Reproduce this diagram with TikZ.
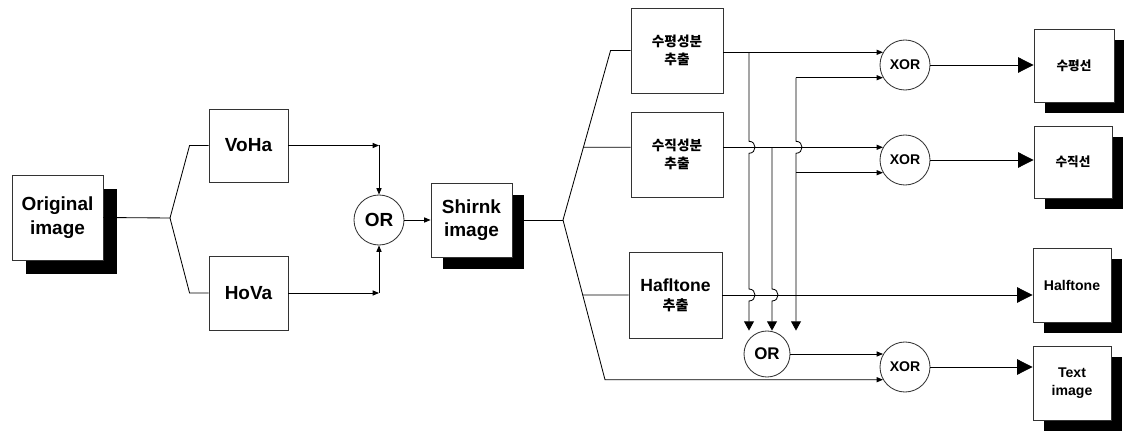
\documentclass[tikz,border=0pt]{standalone}
\usepackage{fontspec}
\setmainfont{Liberation Sans}
\newfontfamily\kor{Noto Sans CJK KR}
\usetikzlibrary{arrows.meta, calc, shadows}

\begin{document}
\begin{tikzpicture}[x=0.025cm, y=-0.025cm, line width=0.6pt,
    box/.style={draw=black!80, fill=white, align=center, inner sep=0pt, font=\bfseries\fontsize{13.5}{17}\selectfont},
    boxshadow/.style={drop shadow={shadow xshift=#1, shadow yshift=-#1, fill=black, opacity=1}},
    gate/.style={draw=black!80, fill=white, circle, inner sep=0pt, minimum size=1.25cm, font=\bfseries\fontsize{13.5}{15}\selectfont},
    xorgate/.style={gate, font=\bfseries\fontsize{10}{12}\selectfont},
    kr/.style={font=\kor\bfseries\fontsize{9.7}{12.8}\selectfont},
    small/.style={font=\bfseries\fontsize{10}{12.8}\selectfont},
    arr/.style={-{Triangle[length=4.5pt, width=3.6pt]}},
    midarr/.style={-{Triangle[length=6.5pt, width=7pt]}},
    bigarr/.style={-{Triangle[length=11pt, width=11pt]}}]
    \useasboundingbox (0,0) rectangle (1124,432);

    % left part
    \node[box, boxshadow=0.34cm, minimum width=2.275cm, minimum height=2.125cm] (orig) at (57.5,217.5) {Original\\image};
    \node[box, minimum width=1.975cm, minimum height=1.825cm] (voha) at (248.5,145.5) {VoHa};
    \node[box, minimum width=1.975cm, minimum height=1.85cm] (hova) at (248.5,293) {HoVa};
    \node[gate] (or1) at (379,220) {OR};
    \node[box, boxshadow=0.29cm, minimum width=2.025cm, minimum height=1.85cm, font=\bfseries\fontsize{13.5}{16.4}\selectfont] (shrink) at (471.5,220) {Shirnk\\image};

    % extraction
    \node[box, kr, minimum width=2.3cm, minimum height=2.125cm] (hext) at (677,50.5) {수평성분\\추출};
    \node[box, kr, minimum width=2.3cm, minimum height=2.125cm] (vext) at (677,154.5) {수직성분\\추출};
    \node[box, minimum width=2.325cm, minimum height=2.15cm, font=\bfseries\fontsize{12.5}{13.5}\selectfont] (htext) at (675.5,295) {Hafltone\\{\kor\fontsize{10}{13.5}\selectfont 추출}};

    % gates
    \node[gate, minimum size=1.15cm, font=\bfseries\fontsize{12}{14}\selectfont] (or2) at (767,354) {OR};
    \node[xorgate] (xor1) at (905,65) {XOR};
    \node[xorgate] (xor2) at (905,160) {XOR};
    \node[xorgate] (xor3) at (905,367) {XOR};

    % results
    \node[box, boxshadow=0.27cm, kr, font=\kor\bfseries\fontsize{9}{12}\selectfont, minimum width=2cm, minimum height=1.825cm] (hline) at (1074,65.5) {수평선};
    \node[box, boxshadow=0.27cm, kr, font=\kor\bfseries\fontsize{9}{12}\selectfont, minimum width=1.95cm, minimum height=1.8cm] (vline) at (1073,162) {수직선};
    \node[box, boxshadow=0.27cm, small, minimum width=1.95cm, minimum height=1.85cm] (hout) at (1072,285) {Halftone};
    \node[box, boxshadow=0.27cm, small, minimum width=1.95cm, minimum height=1.85cm] (tout) at (1072,383) {Text\\image};

    % left connectors
    \coordinate (b1) at (170,218);
    \draw (orig.east) -- (b1);
    \draw (b1) -- ($(voha.west)+(-19,0)$) -- (voha.west);
    \draw (b1) -- ($(hova.west)+(-19,0)$) -- (hova.west);
    \draw[arr] (voha.east) -- (voha.east -| or1.north);
    \draw[arr] (voha.east -| or1.north) -- (or1.north);
    \draw[arr] (hova.east) -- (hova.east -| or1.south);
    \draw[arr] (hova.east -| or1.south) -- (or1.south);
    \draw[arr] (or1.east) -- (shrink.west);

    % fan out
    \coordinate (b2) at (563,220);
    \coordinate (topc) at ($(hext.west)+(-20,0)$);
    \coordinate (botc) at (605,0 |- xor3.210);
    \coordinate (vin) at (vext.west |- xor2.150);
    \coordinate (hin) at (htext.west);
    \draw ($(shrink.east)+(11,0)$) -- (b2);
    \draw (b2) -- (topc) -- (hext.west);
    \draw (intersection of b2--topc and vin--xor2.150) -- (vin);
    \draw (intersection of b2--botc and hin--htext.east) -- (hin);
    \draw[arr] (b2) -- (botc) -- (xor3.210);

    % right connectors
    \draw[arr] (hext.east |- xor1.150) -- (xor1.150);
    \draw[arr] (vext.east |- xor2.150) -- (xor2.150);
    \draw[bigarr] (htext.east) -- (htext.east -| hout.west);
    \draw[arr] (or2.east) -- (or2.east -| xor3.150);

    % verticals with hops
    \coordinate (v1) at (749,0);
    \coordinate (v2) at (772,0);
    \coordinate (v3) at (796,0);
    \coordinate (c1) at (v1 |- xor2.150);
    \coordinate (h1) at (v1 |- htext.east);
    \coordinate (h2) at (v2 |- htext.east);
    \coordinate (c3) at (v3 |- xor2.150);
    \draw[midarr] (v1 |- xor1.150) -- ($(c1)+(0,-6)$) .. controls +(8,0) and +(8,0) .. ($(c1)+(0,6)$)
        -- ($(h1)+(0,-6)$) .. controls +(8,0) and +(8,0) .. ($(h1)+(0,6)$) -- (v1 |- or2.north);
    \draw[midarr] (v2 |- xor2.150) -- ($(h2)+(0,-6)$) .. controls +(8,0) and +(8,0) .. ($(h2)+(0,6)$) -- (v2 |- or2.north);
    \draw[midarr] (v3 |- xor1.210) -- ($(c3)+(0,-6)$) .. controls +(8,0) and +(8,0) .. ($(c3)+(0,6)$) -- (v3 |- or2.north);
    \draw[arr] (v3 |- xor1.210) -- (xor1.210);
    \draw[arr] (v3 |- xor2.210) -- (xor2.210);

    % outputs
    \draw[bigarr] (xor1.east) -- (xor1.east -| hline.west);
    \draw[bigarr] (xor2.east) -- (xor2.east -| vline.west);
    \draw[bigarr] (xor3.east) -- (xor3.east -| tout.west);
\end{tikzpicture}
\end{document}
